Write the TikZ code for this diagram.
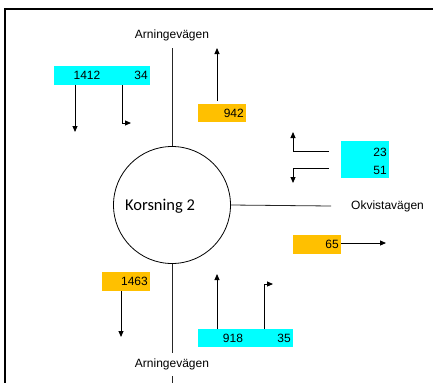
\documentclass[tikz,border=0pt]{standalone}
\usepackage{fontspec}
\setmainfont{Liberation Sans}
\newfontfamily\calib{Carlito}
\usetikzlibrary{arrows.meta}
\definecolor{boxcyan}{HTML}{00FFFF}
\definecolor{boxorange}{HTML}{FFC000}
\tikzset{
  cyanbox/.style={fill=boxcyan, draw=none, anchor=north west, inner sep=0pt},
  orangebox/.style={fill=boxorange, draw=none, anchor=north west, inner sep=0pt},
  num/.style={font=\fontsize{12}{13}\selectfont, inner sep=0pt},
  roadlabel/.style={font=\fontsize{12}{13}\selectfont, inner sep=0pt},
  road/.style={draw=black!85, line width=0.8pt},
  flow/.style={draw=black, line width=0.9pt, -{Triangle[length=6pt,width=5pt]}},
}
\begin{document}
\begin{tikzpicture}[x=1pt,y=-1pt]
\fill[white] (0,0) rectangle (433,383);
\useasboundingbox (0,0) rectangle (433,383);
% frame
\draw[line width=1.6pt] (433,9) -- (5,9) -- (5,383);
% junction
\node[draw=black, line width=0.8pt, circle, minimum size=117pt, inner sep=0pt] (k) at (172,205) {};
\node[font=\calib\fontsize{16.5}{18}\selectfont, inner sep=0pt] (klabel) at (160,206) {Korsning 2};
% roads
\coordinate (ntop) at (172,48);
\coordinate (sbot) at (172,353);
\coordinate (sbot2) at (172,376);
\coordinate (sedge) at (172,383);
\coordinate (eend) at (331,206);
\draw[road] (ntop) -- (k.north);
\draw[road] (k.south) -- (sbot);
\draw[road] (sbot2) -- (sedge);
\draw[road] (k.east) -- (eend);
\node[roadlabel] (ln) at (172,35) {Arningevägen};
\node[roadlabel] (ls) at (172,364.5) {Arningevägen};
\node[roadlabel, anchor=west] (le) at (351,206) {Okvistavägen};
% boxes
\node[cyanbox, minimum width=96pt, minimum height=19pt] (c1) at (54,66) {};
\node[num] (t1412) at (87,75.5) {1412};
\node[num, anchor=east] (t34) at (148,75.5) {34};
\node[orangebox, minimum width=48pt, minimum height=18pt] (o942) at (198,104) {};
\node[num, anchor=east] (t942) at (244,113) {942};
\node[cyanbox, minimum width=48pt, minimum height=37pt] (c2) at (341,141) {};
\node[num, anchor=east] (t23) at (387,152) {23};
\node[num, anchor=east] (t51) at (387,170.5) {51};
\node[orangebox, minimum width=48pt, minimum height=19pt] (o65) at (293,235) {};
\node[num, anchor=east] (t65) at (339,244.5) {65};
\node[cyanbox, minimum width=95pt, minimum height=18pt] (c3) at (198,329) {};
\node[num] (t918) at (233,338) {918};
\node[num, anchor=east] (t35) at (291,338) {35};
\node[orangebox, minimum width=48pt, minimum height=19pt] (o1463) at (102,272) {};
\node[num, anchor=east] (t1463) at (148,281.5) {1463};
% arrow end points
\coordinate (a1) at (75,132);
\coordinate (a2b) at (122,123);
\coordinate (a2) at (131,123);
\coordinate (a3s) at (217,101);
\coordinate (a3) at (217,48);
\coordinate (a4s) at (329,151);
\coordinate (a4b) at (293,151);
\coordinate (a4) at (293,132);
\coordinate (a5s) at (329,168);
\coordinate (a5b) at (293,168);
\coordinate (a5) at (293,183);
\coordinate (a6) at (386,243);
\coordinate (a7) at (217,274);
\coordinate (a8b) at (264,284);
\coordinate (a8) at (273,284);
\coordinate (a9) at (121,337);
% flows
\draw[flow] (c1.south -| a1) -- (a1);
\draw[flow] (c1.south -| a2b) -- (a2b) -- (a2);
\draw[flow] (a3s) -- (a3);
\draw[flow] (a4s) -- (a4b) -- (a4);
\draw[flow] (a5s) -- (a5b) -- (a5);
\draw[flow] (o65.east |- a6) -- (a6);
\draw[flow] (c3.north -| a7) -- (a7);
\draw[flow] (c3.north -| a8b) -- (a8b) -- (a8);
\draw[flow] (o1463.south -| a9) -- (a9);
\end{tikzpicture}
\end{document}
